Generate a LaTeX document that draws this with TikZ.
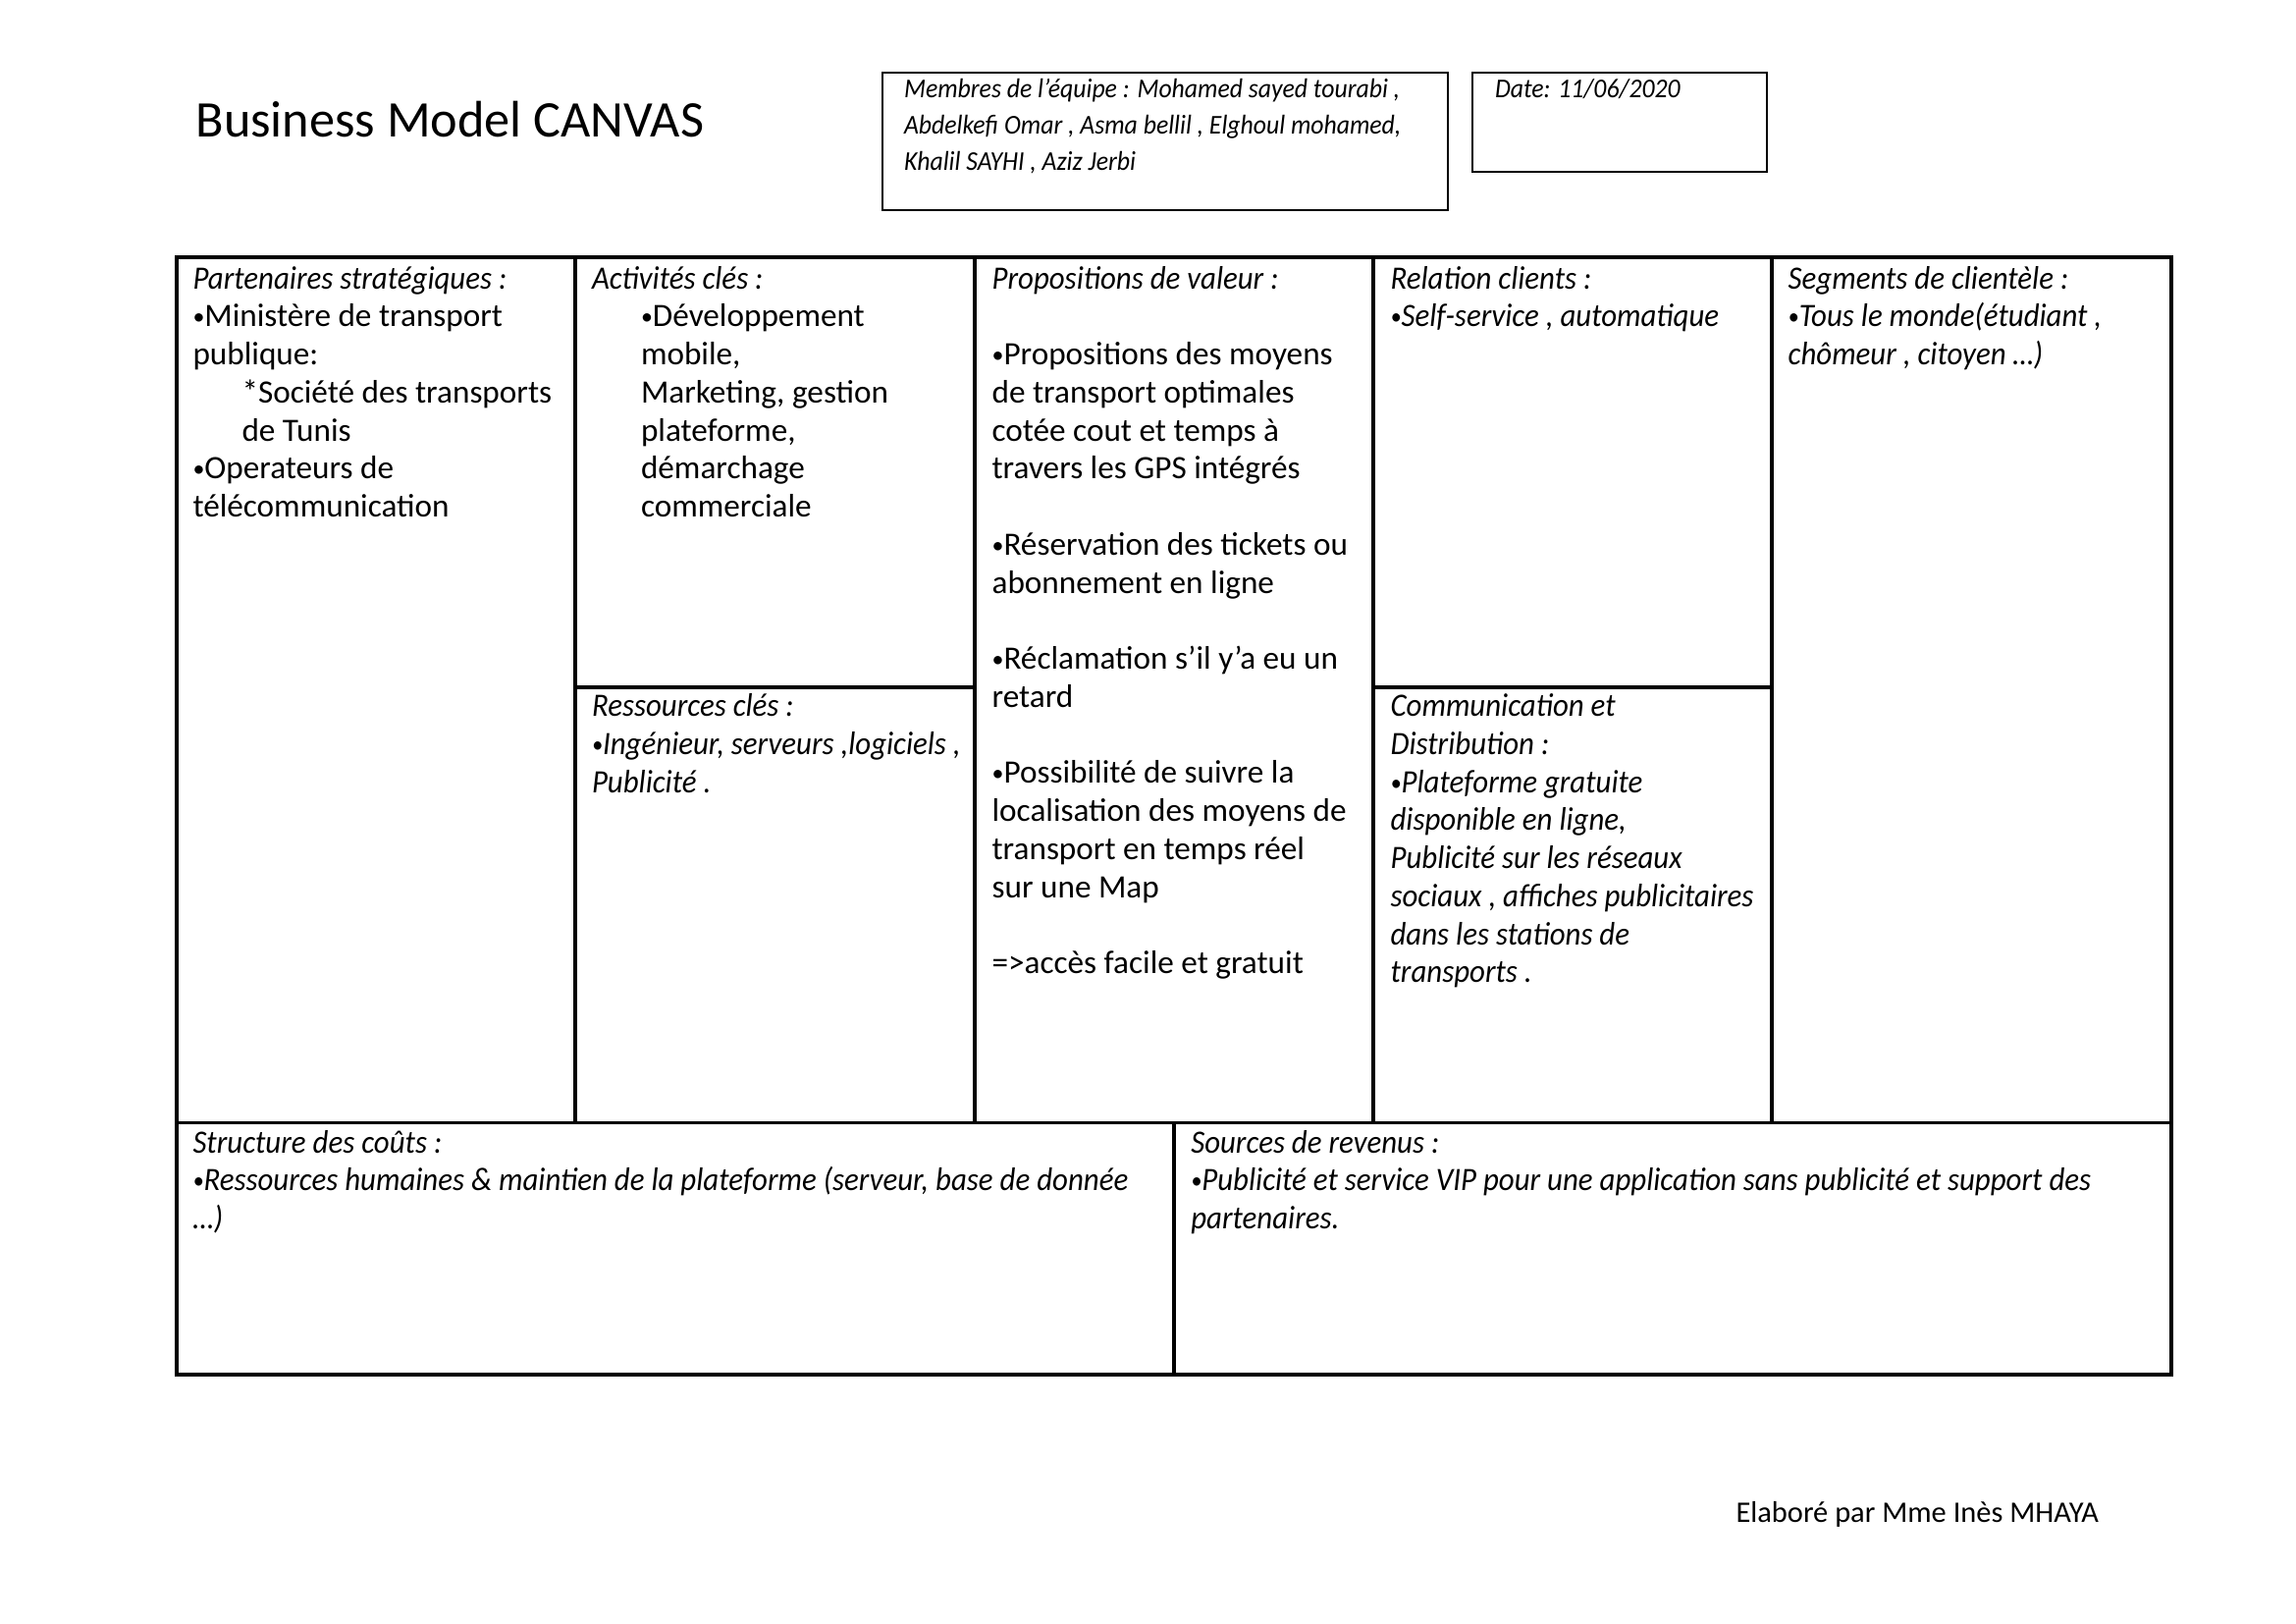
\documentclass[tikz,border=0pt]{standalone}
\usepackage{fontspec}
\setmainfont{Carlito}[ItalicFeatures={FakeStretch=0.93}]
\newcommand{\bul}{\raisebox{0.06em}{\scalebox{0.72}{•}}}
\begin{document}
\begin{tikzpicture}[x=0.126977mm,y=-0.126977mm,
  frame/.style={line width=1.2pt},
  hbox/.style={line width=0.8pt},
  cell/.style={anchor=north west, inner sep=0pt, outer sep=0pt, align=left, font=\fontsize{12}{14}\selectfont},
  icell/.style={cell, font=\fontsize{12}{14}\selectfont\itshape},
  small/.style={anchor=north west, inner sep=0pt, outer sep=0pt, align=left, font=\fontsize{10}{13.4}\selectfont\itshape}]
\useasboundingbox (0,0) rectangle (2339,1654);
% header
\node[anchor=base west, inner sep=0pt, font=\fontsize{18.9}{22}\selectfont] (title) at (199,140) {Business Model CANVAS};
\draw[hbox] (899,74) rectangle (1475,214);
\draw[hbox] (1500,74) rectangle (1800,175);
\node[small] (members) at (921,73.5) {\strut Membres de l’équipe : Mohamed sayed tourabi ,\\ Abdelkefi Omar , Asma bellil , Elghoul mohamed,\\ Khalil SAYHI , Aziz Jerbi};
\node[small] (date) at (1523,73.5) {\strut Date: 11/06/2020};
% canvas grid
\draw[frame] (180,262) rectangle (2212,1400);
\draw[frame] (586,262) -- (586,1143.5);
\draw[frame] (993,262) -- (993,1143.5);
\draw[frame] (1399,262) -- (1399,1143.5);
\draw[frame] (1805,262) -- (1805,1143.5);
\draw[frame] (586,700) -- (993,700);
\draw[frame] (1399,700) -- (1805,700);
\draw[frame] (180,1143.5) -- (2212,1143.5);
\draw[frame] (1196,1143.5) -- (1196,1400);
% cells
\node[cell] (partners) at (196.5,267) {\strut\textit{Partenaires stratégiques :}\\
\bul Ministère de transport\\
publique:\\
\hspace*{6.35mm}*Société des transports\\
\hspace*{6.35mm}de Tunis\\
\bul Operateurs de\\
télécommunication};
\node[cell] (activities) at (603,267) {\strut\textit{Activités clés :}\\
\hspace*{6.35mm}\bul Développement\\
\hspace*{6.35mm}mobile,\\
\hspace*{6.35mm}Marketing, gestion\\
\hspace*{6.35mm}plateforme,\\
\hspace*{6.35mm}démarchage\\
\hspace*{6.35mm}commerciale};
\node[icell] (resources) at (603,702.5) {\strut Ressources clés :\\
\bul Ingénieur, serveurs ,logiciels ,\\
Publicité .};
\node[cell] (value) at (1010.6,267) {\strut\textit{Propositions de valeur :}\\[14pt]
\bul Propositions des moyens\\
de transport optimales\\
cotée cout et temps à\\
travers les GPS intégrés\\[14pt]
\bul Réservation des tickets ou\\
abonnement en ligne\\[14pt]
\bul Réclamation s’il y’a eu un\\
retard\\[14pt]
\bul Possibilité de suivre la\\
localisation des moyens de\\
transport en temps réel\\
sur une Map\\[14pt]
=>accès facile et gratuit};
\node[icell] (relation) at (1416.6,267) {\strut Relation clients :\\
\bul Self-service , automatique};
\node[icell] (channels) at (1416.6,702.5) {\strut Communication et\\
Distribution :\\
\bul Plateforme gratuite\\
disponible en ligne,\\
Publicité sur les réseaux\\
sociaux , affiches publicitaires\\
dans les stations de\\
transports .};
\node[icell] (segments) at (1821.7,267) {\strut Segments de clientèle :\\
\bul Tous le monde(étudiant ,\\
chômeur , citoyen …)};
\node[icell] (costs) at (196.5,1147) {\strut Structure des coûts :\\
\bul Ressources humaines \& maintien de la plateforme (serveur, base de donnée\\
…)};
\node[icell] (revenue) at (1213.3,1147) {\strut Sources de revenus :\\
\bul Publicité et service VIP pour une application sans publicité et support des\\
partenaires.};
% footer
\node[anchor=base west, inner sep=0pt, font=\fontsize{11}{13}\selectfont] (footer) at (1768,1550.5) {Elaboré par Mme Inès MHAYA};
\end{tikzpicture}
\end{document}
